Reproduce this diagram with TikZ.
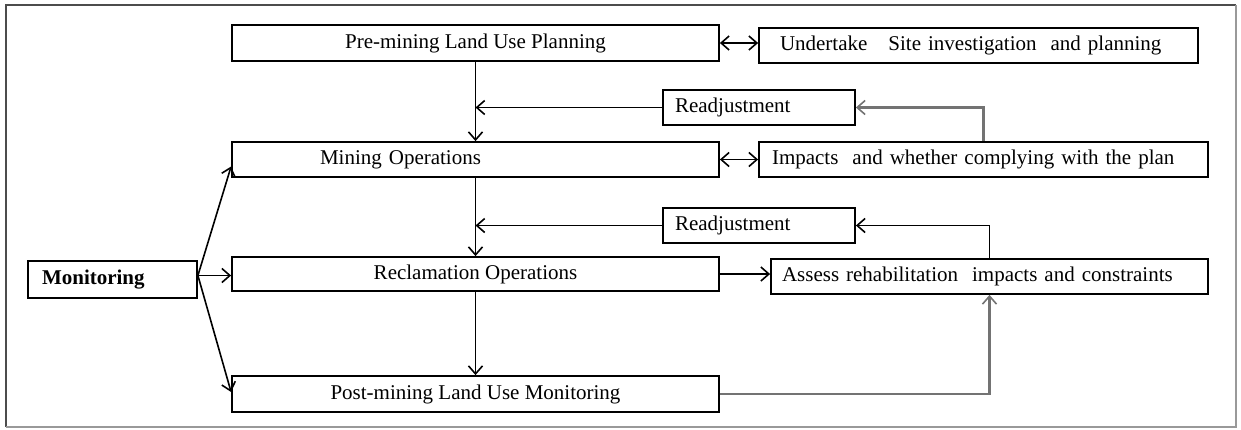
\documentclass[tikz,border=0pt]{standalone}
\usepackage{fontspec}
\setmainfont{Liberation Serif}
\usetikzlibrary{arrows.meta}
\begin{document}
\begin{tikzpicture}[x=1pt,y=-1pt,
  box/.style={draw, line width=1.8pt, inner sep=0pt, font=\fontsize{21}{25}\selectfont, minimum height=35pt, align=center},
  lbox/.style args={#1/#2}{box, text width=#1-2*#2, inner xsep=#2, align=left},
  tip/.style={},
  arr/.style={line width=1.6pt, -{Straight Barb[length=8pt,width=14pt,line width=1.6pt]}},
  dbl/.style={line width=1.6pt, {Straight Barb[length=8pt,width=14pt,line width=1.6pt]}-{Straight Barb[length=8pt,width=14pt,line width=1.6pt]}},
  garr/.style={arr, draw=black!55, line width=2.2pt}]
\useasboundingbox (0,0) rectangle (1241,429);
\draw[line width=1.8pt, black!70] (6,427) -- (6,5) -- (1236,5);
\draw[line width=1.8pt, black!40] (6,427) -- (1236,427) -- (1236,5);

\node[box, minimum width=487pt, minimum height=36pt] (pre) at (475.5,43) {Pre-mining Land Use Planning};
\node[lbox=439pt/21pt] (und) at (978.5,45.5) {Undertake~~ Site investigation~ and planning};
\node[lbox=192pt/12pt] (rd1) at (759,107.5) {Readjustment};
\node[lbox=487pt/88pt] (min) at (475.5,159.5) {Mining Operations};
\node[lbox=449pt/13pt] (imp) at (983.5,159.5) {Impacts~ and whether complying with the plan};
\node[lbox=192pt/12pt] (rd2) at (759,225.5) {Readjustment};
\node[box, minimum width=487pt, minimum height=34pt] (rec) at (475.5,274) {Reclamation Operations};
\node[lbox=437pt/11pt] (ass) at (989.5,276.5) {Assess rehabilitation~ impacts and constraints};
\node[lbox=169pt/14pt, minimum height=37pt, font=\fontsize{21}{25}\selectfont\bfseries] (mon) at (112.5,279.5) {Monitoring};
\node[box, minimum width=487pt, minimum height=36pt] (post) at (475.5,394) {Post-mining Land Use Monitoring};

\draw[arr] (pre) -- (min);
\draw[arr] (rd1.west) -- (rd1.west -| pre.south);
\draw[garr] (imp.north) |- (rd1.east);
\draw[dbl] (pre.east) -- (pre.east -| und.west);
\draw[dbl] (min.east) -- (min.east -| imp.west);
\draw[arr] (min) -- (rec);
\draw[arr] (rd2.west) -- (rd2.west -| min.south);
\draw[arr] (ass.north) |- (rd2.east);
\draw[arr] (rec.east) -- (rec.east -| ass.west);
\draw[arr] (rec) -- (post);
\draw[garr] (post.east) -| (ass.south);

\coordinate (mo) at ([yshift=4pt]mon.east);
\draw[arr] (mo) -- ([yshift=-7pt]min.west);
\draw[arr] (mo) -- (mo -| rec.west);
\draw[arr] (mo) -- ([yshift=2pt]post.west);
\end{tikzpicture}
\end{document}
